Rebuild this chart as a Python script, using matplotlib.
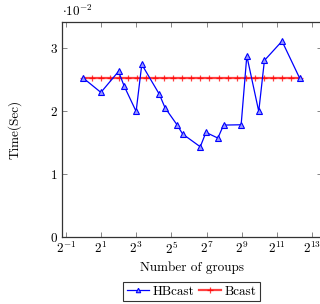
import numpy as np
import matplotlib
matplotlib.use("Agg")
import matplotlib.pyplot as plt
from matplotlib.ticker import FixedLocator, FuncFormatter, NullLocator

plt.rcParams["font.family"] = "serif"
plt.rcParams["font.serif"] = ["cmr10", "DejaVu Serif"]
plt.rcParams["mathtext.fontset"] = "cm"
plt.rcParams["axes.unicode_minus"] = False
plt.rcParams["axes.formatter.use_mathtext"] = True

# number of groups (divisors of 5000) and HBcast times (x 1e-2 s)
hb_groups = [1, 2, 4, 5, 8, 10, 20, 25, 40, 50, 100, 125, 200, 250,
             500, 625, 1000, 1250, 2500, 5000]
hb_time = [2.515, 2.288, 2.621, 2.388, 1.987, 2.732, 2.257, 2.044, 1.775, 1.628,
           1.426, 1.654, 1.564, 1.770, 1.775, 2.868, 1.987, 2.795, 3.101, 2.515]

# Bcast is flat, sampled at 25 points
bc_groups = [1, 1.426, 2.033, 2.899, 4.134, 5.894, 8.409, 11.99, 17.10, 24.38,
             34.77, 49.58, 70.71, 100.8, 143.8, 205.1, 292.4, 417.0, 594.6,
             847.9, 1209, 1724, 2459, 3506, 5000]
bc_time = [2.515] * 25

xticks_exp = [-1, 1, 3, 5, 7, 9, 11, 13]
yticks = [0, 1, 2, 3]

fig = plt.figure(figsize=(3.2, 3.04), dpi=100)
ax = fig.add_axes([62 / 320, 67.3 / 304, 259.5 / 320, 214.4 / 304])

ax.plot(bc_groups, bc_time, color="red", lw=1.6, alpha=0.75, marker="+",
        ms=5, mew=0.9, label="Bcast", zorder=2)
ax.plot(hb_groups, hb_time, color="blue", lw=0.9, marker="^", ms=4,
        mfc="#9999ff", mec="blue", mew=0.8, label="HBcast", zorder=3)

ax.set_xscale("log", base=2)
ax.set_xlim(2 ** -1.21, 2 ** 13.53)
ax.set_ylim(0, 3.40)

ax.xaxis.set_major_locator(FixedLocator([2.0 ** e for e in xticks_exp]))
ax.xaxis.set_minor_locator(NullLocator())
ax.xaxis.set_major_formatter(FuncFormatter(lambda v, p: r"$2^{%d}$" % round(np.log2(v))))
ax.set_yticks(yticks)
ax.yaxis.set_major_formatter(FuncFormatter(lambda v, p: r"$%d$" % v))

ax.tick_params(which="both", direction="in", top=True, right=True,
               length=3.5, width=0.5, color="#555555", labelsize=9.5, pad=3)
for s in ax.spines.values():
    s.set_linewidth(0.9)
    s.set_color("#333333")

ax.set_xlabel("Number of groups", fontsize=9.5, labelpad=3)
ax.set_ylabel("Time(Sec)", fontsize=9.5, labelpad=20)
ax.text(0.0 + 0.1 / 320, 1.015, r"$\cdot 10^{-2}$", transform=ax.transAxes,
        fontsize=9.5, ha="left", va="bottom")

handles, labels = ax.get_legend_handles_labels()
leg = fig.legend(handles[::-1], labels[::-1], loc="center",
                 bbox_to_anchor=(191.7 / 320, 1 - 291.7 / 304), ncol=2,
                 fontsize=9.5, frameon=True, fancybox=False, edgecolor="black",
                 handlelength=1.7, handletextpad=0.3, columnspacing=0.3,
                 borderpad=0.25, borderaxespad=0, markerscale=0.8)
leg.get_frame().set_linewidth(0.8)

fig.savefig("out.png", dpi=100)
